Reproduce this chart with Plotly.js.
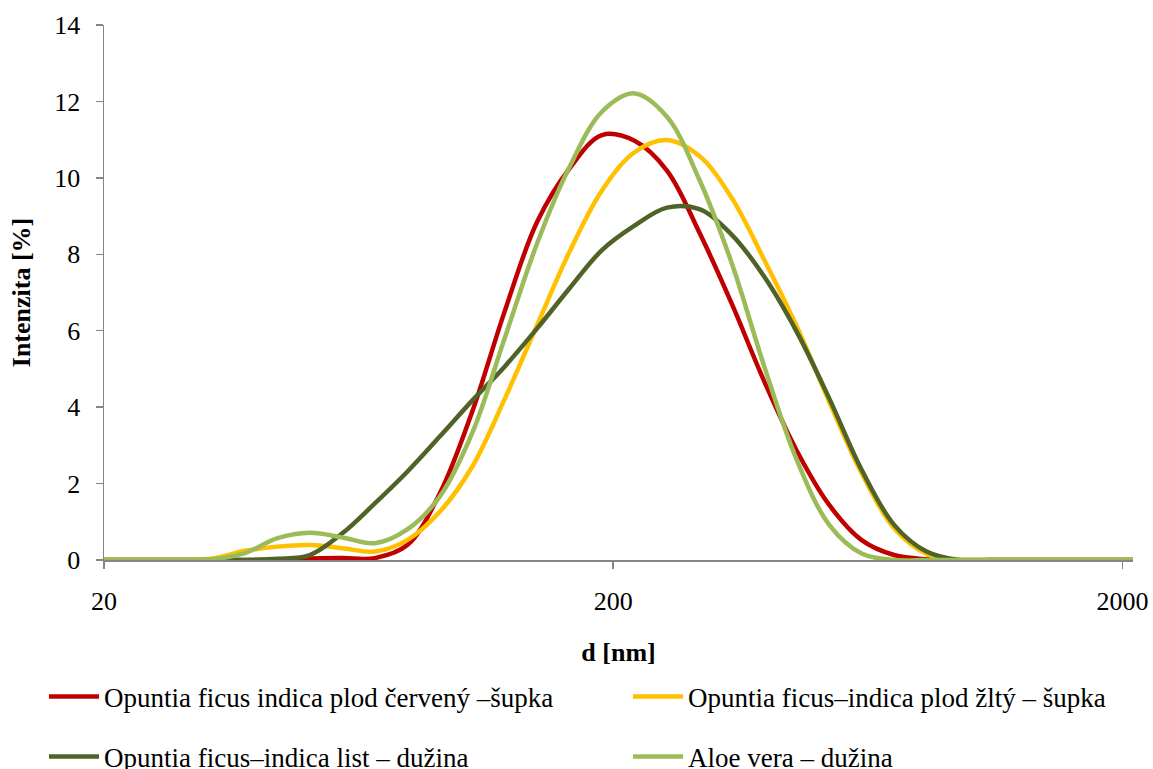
<!DOCTYPE html>
<html>
<head>
<meta charset="utf-8">
<script src="https://cdn.plot.ly/plotly-3.0.1.min.js"></script>
<style>html,body{margin:0;padding:0;background:#fff;}#chart{width:1153px;height:769px;}</style>
</head>
<body>
<div id="chart"></div>
<script>
// Particle size bins d [nm]
const sizes = [18.17, 21.04, 24.36, 28.21, 32.67, 37.84, 43.82, 50.75, 58.77, 68.06, 78.82, 91.28, 105.7, 122.4, 141.8, 164.2, 190.1, 220.2, 255.0, 295.3, 342.0, 396.1, 458.7, 531.2, 615.1, 712.4, 825.0, 955.4, 1106, 1281, 1484, 1718, 1990, 2305];

// Intensity [%]
const redPeel   = [0, 0, 0, 0, 0, 0, 0, 0.04, 0.05, 0.05, 0.39, 1.74, 3.88, 6.50, 8.85, 10.25, 11.12, 10.97, 10.19, 8.57, 6.70, 4.67, 2.86, 1.44, 0.52, 0.13, 0.02, 0, 0, 0, 0, 0, 0, 0];
const yellowPeel = [0, 0, 0, 0, 0.04, 0.24, 0.35, 0.39, 0.31, 0.22, 0.52, 1.26, 2.44, 4.21, 6.15, 8.07, 9.67, 10.67, 10.99, 10.57, 9.47, 7.85, 6.11, 4.14, 2.27, 0.83, 0.16, 0, 0, 0, 0, 0, 0, 0];
const leafPulp  = [0, 0, 0, 0, 0, 0, 0.03, 0.13, 0.70, 1.48, 2.31, 3.23, 4.17, 5.06, 6.06, 7.11, 8.11, 8.75, 9.22, 9.18, 8.51, 7.41, 5.97, 4.23, 2.36, 0.92, 0.22, 0, 0, 0, 0, 0, 0, 0];
const aloePulp  = [0, 0, 0, 0, 0.02, 0.18, 0.57, 0.71, 0.59, 0.44, 0.80, 1.66, 3.32, 5.80, 8.29, 10.29, 11.73, 12.21, 11.60, 9.95, 7.76, 5.06, 2.62, 0.92, 0.17, 0, 0, 0, 0, 0, 0, 0, 0, 0];

const seriesNames = [
  'Opuntia ficus indica plod červený –šupka',
  'Opuntia ficus–indica plod žltý – šupka',
  'Opuntia ficus–indica list – dužina',
  'Aloe vera – dužina'
];
const seriesValues = [redPeel, yellowPeel, leafPulp, aloePulp];
const seriesColors = ['#C00000', '#FFC000', '#4F6228', '#9BBB59'];
const legendIds = ['legend', 'legend2', 'legend3', 'legend4'];

const xTickVals = [20, 200, 2000];
const xTickText = ['20', '200', '2000'];
const yTickVals = [0, 2, 4, 6, 8, 10, 12, 14];

const FONT = 'Liberation Serif, Times New Roman, serif';

const traces = seriesValues.map((vals, i) => ({
  type: 'scatter',
  mode: 'lines',
  x: sizes,
  y: vals,
  name: seriesNames[i],
  legend: legendIds[i],
  line: {color: seriesColors[i], width: 4.5, shape: 'spline', smoothing: 1}
}));

function legendAt(px, py) {
  return {
    orientation: 'h',
    xref: 'container', yref: 'container',
    xanchor: 'left', yanchor: 'middle',
    x: px / 1153, y: 1 - py / 769,
    font: {family: FONT, size: 27, color: '#000'},
    bgcolor: 'rgba(0,0,0,0)',
    itemwidth: 50
  };
}

const layout = {
  width: 1153, height: 769,
  paper_bgcolor: '#fff', plot_bgcolor: '#fff',
  margin: {l: 104, r: 20, t: 25, b: 209},
  font: {family: FONT, size: 26, color: '#000'},
  showlegend: true,
  legend: legendAt(44, 697),
  legend2: legendAt(628, 697),
  legend3: legendAt(44, 757),
  legend4: legendAt(628, 757),
  xaxis: {
    type: 'log',
    range: [Math.log10(20), Math.log10(20) + (1133 - 104) / 509.2],
    tickvals: xTickVals, ticktext: xTickText,
    ticks: 'outside', ticklen: 7, tickwidth: 1.5, tickcolor: '#868686',
    ticklabelstandoff: 10,
    showline: true, linecolor: '#868686', linewidth: 1.5,
    showgrid: false, zeroline: false,
    tickfont: {family: FONT, size: 26, color: '#000'},
    title: {text: '<b>d [nm]</b>', font: {family: FONT, size: 26, color: '#000'}, standoff: 28},
    automargin: false
  },
  yaxis: {
    range: [0, 14],
    tickvals: yTickVals,
    ticks: 'outside', ticklen: 7, tickwidth: 1.5, tickcolor: '#868686',
    ticklabelstandoff: 10,
    showline: true, linecolor: '#868686', linewidth: 1.5,
    showgrid: false, zeroline: false,
    tickfont: {family: FONT, size: 26, color: '#000'},
    title: {text: '<b>Intenzita [%]</b>', font: {family: FONT, size: 26, color: '#000'}, standoff: 16},
    automargin: false
  }
};

Plotly.newPlot('chart', traces, layout, {staticPlot: true, displayModeBar: false});
</script>
</body>
</html>
